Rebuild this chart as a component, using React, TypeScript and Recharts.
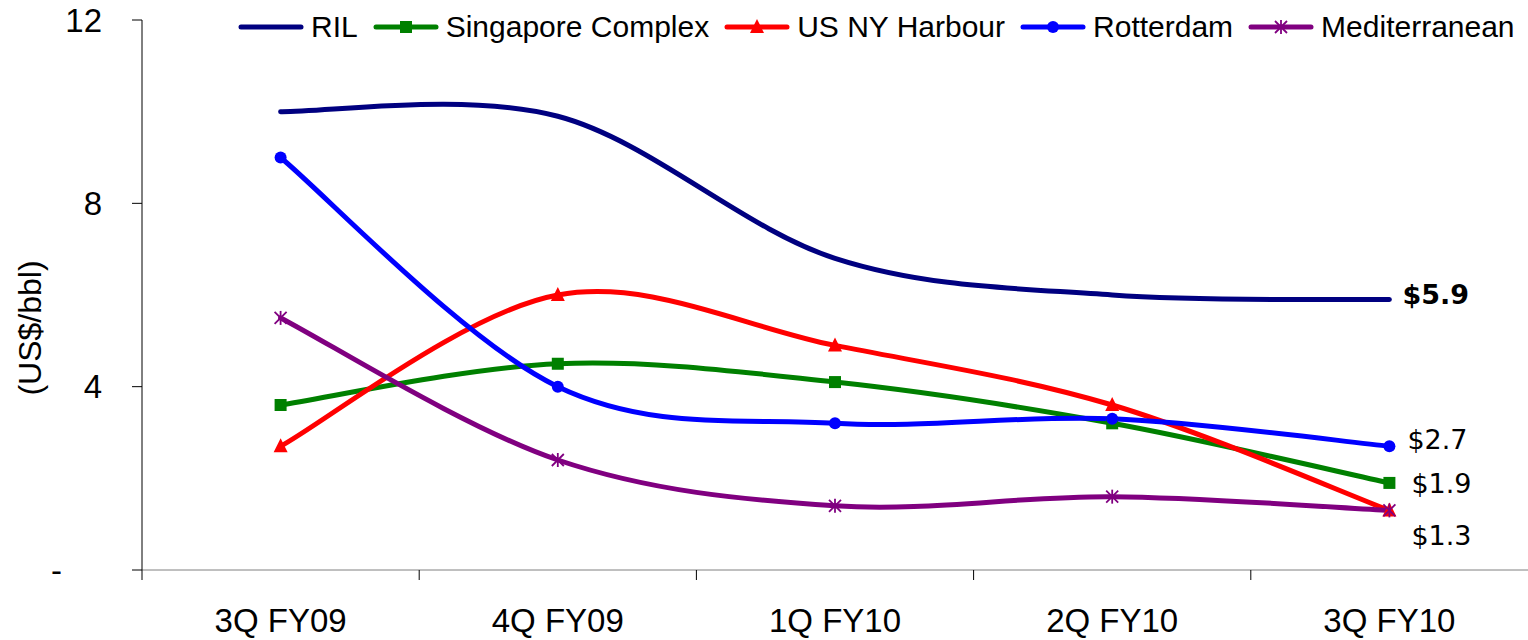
import React from "react";
import { LineChart, Line, XAxis, YAxis, Legend } from "recharts";

const quarters = ["3Q FY09", "4Q FY09", "1Q FY10", "2Q FY10", "3Q FY10"];
const ril = [10.0, 9.9, 6.8, 6.0, 5.9];
const singapore = [3.6, 4.5, 4.1, 3.2, 1.9];
const usNyHarbour = [2.7, 6.0, 4.9, 3.6, 1.3];
const rotterdam = [9.0, 4.0, 3.2, 3.3, 2.7];
const mediterranean = [5.5, 2.4, 1.4, 1.6, 1.3];
const yTicks = [0, 4, 8, 12];

type Shape = "none" | "square" | "triangle" | "circle" | "star";

const series = [
  { key: "ril", name: "RIL", values: ril, color: "#000080", marker: "none" as Shape, label: { dx: 13, dy: -5, bold: true } },
  { key: "singapore", name: "Singapore Complex", values: singapore, color: "#008000", marker: "square" as Shape, label: { dx: 22, dy: 0, bold: false } },
  { key: "usny", name: "US NY Harbour", values: usNyHarbour, color: "#FF0000", marker: "triangle" as Shape, label: { dx: 22, dy: 25, bold: false } },
  { key: "rotterdam", name: "Rotterdam", values: rotterdam, color: "#0000FF", marker: "circle" as Shape, label: { dx: 18, dy: -7, bold: false } },
  { key: "med", name: "Mediterranean", values: mediterranean, color: "#800080", marker: "star" as Shape, label: null },
];

const data = quarters.map((q, i) => {
  const row: Record<string, string | number> = { quarter: q };
  series.forEach((s) => (row[s.key] = s.values[i]));
  return row;
});

// half of one category slot (plot width 1386 / 5 categories / 2)
const HALF_SLOT = 138.6;

// Excel-style smoothing (uniform Catmull-Rom as cubic beziers)
const excelSmooth = (context: any) => {
  let pts: [number, number][] = [];
  return {
    areaStart() {},
    areaEnd() {},
    lineStart() {
      pts = [];
    },
    point(x: number, y: number) {
      pts.push([+x, +y]);
    },
    lineEnd() {
      const n = pts.length;
      if (!n) return;
      context.moveTo(pts[0][0], pts[0][1]);
      for (let i = 0; i < n - 1; i++) {
        const p0 = pts[Math.max(i - 1, 0)];
        const p1 = pts[i];
        const p2 = pts[i + 1];
        const p3 = pts[Math.min(i + 2, n - 1)];
        context.bezierCurveTo(
          p1[0] + (p2[0] - p0[0]) / 6,
          p1[1] + (p2[1] - p0[1]) / 6,
          p2[0] - (p3[0] - p1[0]) / 6,
          p2[1] - (p3[1] - p1[1]) / 6,
          p2[0],
          p2[1]
        );
      }
    },
  };
};

const Marker = ({ shape, x, y, color }: { shape: Shape; x: number; y: number; color: string }) => {
  switch (shape) {
    case "square":
      return <rect x={x - 6} y={y - 6} width={12} height={12} fill={color} />;
    case "triangle":
      return <polygon points={`${x},${y - 8} ${x + 7},${y + 6} ${x - 7},${y + 6}`} fill={color} />;
    case "circle":
      return <circle cx={x} cy={y} r={6} fill={color} />;
    case "star":
      return (
        <g stroke={color} strokeWidth={1.8}>
          <line x1={x} y1={y - 7} x2={x} y2={y + 7} />
          <line x1={x - 6} y1={y - 6} x2={x + 6} y2={y + 6} />
          <line x1={x - 6} y1={y + 6} x2={x + 6} y2={y - 6} />
        </g>
      );
    default:
      return null;
  }
};

const renderLegend = () => (
  <div style={{ display: "flex", alignItems: "center", height: 40, whiteSpace: "nowrap" }}>
    {series.map((s) => (
      <div key={s.key} style={{ display: "flex", alignItems: "center", marginRight: 15 }}>
        <svg width={66} height={16} style={{ display: "block" }}>
          <line x1={3} y1={8} x2={63} y2={8} stroke={s.color} strokeWidth={5} strokeLinecap="round" />
          <Marker shape={s.marker} x={33} y={8} color={s.color} />
        </svg>
        <span style={{ marginLeft: 7, fontSize: 30, color: "#000", lineHeight: "40px" }}>{s.name}</span>
      </div>
    ))}
  </div>
);

const XTick = (props: any) => {
  const { x, y, payload } = props;
  const half = payload?.offset || HALF_SLOT;
  return (
    <g>
      <line x1={x - half} y1={y - 10} x2={x - half} y2={y} stroke="#000" strokeWidth={1} />
      <text x={x} y={y + 52} textAnchor="middle" fontSize={33} fill="#000">
        {payload.value}
      </text>
    </g>
  );
};

const YTick = (props: any) => {
  const { x, y, payload } = props;
  const isZero = payload.value === 0;
  return (
    <text x={isZero ? x - 40 : x} y={y} dy="0.355em" textAnchor="end" fontSize={33} fill="#000">
      {isZero ? "-" : payload.value}
    </text>
  );
};

const renderYLabel = (p: any) => {
  const vb = p.viewBox || { x: 0, y: 20, width: 142, height: 550 };
  const cx = 30;
  const cy = vb.y + vb.height / 2 + 33;
  return (
    <text
      x={cx}
      y={cy}
      transform={`rotate(-90 ${cx} ${cy})`}
      textAnchor="middle"
      dominantBaseline="central"
      fontSize={32}
      fill="#000"
    >
      (US$/bbl)
    </text>
  );
};

const makeEndLabel = (s: (typeof series)[number]) => (props: any) => {
  const { index, value } = props;
  if (!s.label || index !== quarters.length - 1) return null;
  const px = props.x ?? props.viewBox?.x;
  const py = props.y ?? props.viewBox?.y;
  return (
    <text
      key={`lbl-${s.key}`}
      x={px + s.label.dx}
      y={py + s.label.dy}
      dy="0.355em"
      textAnchor="start"
      fontFamily="'DejaVu Sans', sans-serif"
      fontSize={27}
      fontWeight={s.label.bold ? 700 : 400}
      fill="#000"
    >
      {`$${Number(value).toFixed(1)}`}
    </text>
  );
};

export default function App() {
  return (
    <div
      style={{
        position: "absolute",
        left: 0,
        top: 0,
        width: 1528,
        height: 640,
        background: "#fff",
        fontFamily: "'Liberation Sans', Arial, sans-serif",
      }}
    >
      <LineChart width={1528} height={640} data={data} margin={{ top: 20, right: 0, bottom: 0, left: 0 }}>
        <XAxis
          dataKey="quarter"
          height={70}
          stroke="#808080"
          tickLine={false}
          tickSize={10}
          tickMargin={0}
          tick={<XTick />}
          interval={0}
          padding={{ left: HALF_SLOT, right: HALF_SLOT }}
        />
        <YAxis
          width={142}
          domain={[0, 12]}
          ticks={yTicks}
          stroke="#000"
          tickSize={10}
          tickMargin={30}
          tick={<YTick />}
          label={renderYLabel}
        />
        <Legend
          verticalAlign="middle"
          align="center"
          layout="horizontal"
          content={renderLegend}
          wrapperStyle={{ position: "absolute", top: 7, left: 238, width: 1290, height: 40 }}
        />
        {series.map((s) => (
          <Line
            key={s.key}
            dataKey={s.key}
            name={s.name}
            type={excelSmooth as any}
            stroke={s.color}
            strokeWidth={5}
            strokeLinecap="round"
            strokeLinejoin="round"
            isAnimationActive={false}
            activeDot={false}
            dot={
              s.marker === "none"
                ? false
                : (p: any) => <Marker key={`${s.key}-${p.index}`} shape={s.marker} x={p.cx} y={p.cy} color={s.color} />
            }
            label={makeEndLabel(s)}
          />
        ))}
      </LineChart>
    </div>
  );
}
